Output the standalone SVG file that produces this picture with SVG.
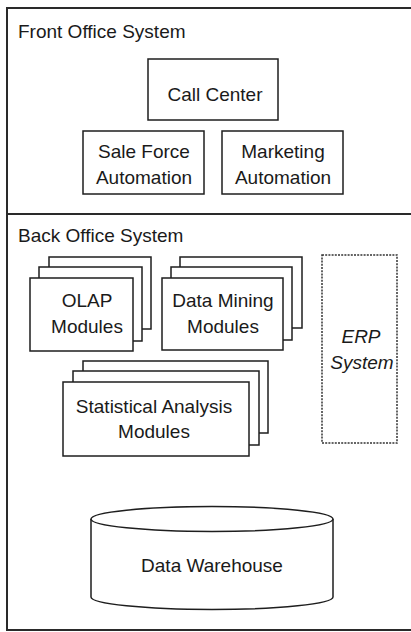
<svg xmlns="http://www.w3.org/2000/svg" width="411" height="632" viewBox="0 0 411 632">
<style>
  .frame{fill:none;stroke:#2a2a2a;stroke-width:2}
  .box{fill:#fff;stroke:#1e1e1e;stroke-width:1.5}
  .dash{fill:none;stroke:#333;stroke-width:1.5;stroke-dasharray:2 1.2}
  text{font-family:"Liberation Sans",Arial,sans-serif;font-size:19px;fill:#1a1a1a}
  .c{text-anchor:middle}
  .i{font-style:italic}
</style>
<rect width="411" height="632" fill="#fff"/>
<g id="frame">
  <path class="frame" d="M411 8 H7 V630 H411 M7 214 H411"/>
</g>
<g id="front-office">
  <text x="18" y="38">Front Office System</text>
</g>
<g id="call-center">
  <rect class="box" x="148" y="59" width="130" height="61"/>
  <text class="c" x="215" y="101">Call Center</text>
</g>
<g id="sale-force">
  <rect class="box" x="83" y="131" width="121" height="63"/>
  <text class="c" x="144" y="158">Sale Force</text>
  <text class="c" x="144" y="184">Automation</text>
</g>
<g id="marketing">
  <rect class="box" x="222" y="131" width="121" height="63"/>
  <text class="c" x="283" y="158">Marketing</text>
  <text class="c" x="283" y="184">Automation</text>
</g>
<g id="back-office">
  <text x="18" y="242">Back Office System</text>
</g>
<g id="olap">
  <rect class="box" x="49" y="257" width="102" height="72"/>
  <rect class="box" x="39" y="267" width="103" height="74"/>
  <rect class="box" x="30" y="278" width="103" height="73"/>
  <text class="c" x="87" y="307">OLAP</text>
  <text class="c" x="87" y="333">Modules</text>
</g>
<g id="data-mining">
  <rect class="box" x="180" y="257" width="122" height="71"/>
  <rect class="box" x="171" y="267" width="121" height="73"/>
  <rect class="box" x="162" y="278" width="121" height="72"/>
  <text class="c" x="223" y="307">Data Mining</text>
  <text class="c" x="223" y="333">Modules</text>
</g>
<g id="erp">
  <rect class="dash" x="322" y="255" width="75" height="188"/>
  <text class="c i" x="361" y="343">ERP</text>
  <text class="c i" x="362" y="369">System</text>
</g>
<g id="statistical">
  <rect class="box" x="83" y="361" width="185" height="72"/>
  <rect class="box" x="73" y="371" width="186" height="74"/>
  <rect class="box" x="63" y="382" width="186" height="74"/>
  <text class="c" x="154" y="413">Statistical Analysis</text>
  <text class="c" x="154" y="438">Modules</text>
</g>
<g id="data-warehouse">
  <path class="box" d="M91 519 V597 A121 12.5 0 0 0 333 597 V519"/>
  <ellipse class="box" cx="212" cy="519" rx="121" ry="12.5"/>
  <text class="c" x="212" y="572">Data Warehouse</text>
</g>
<g id="connectors"></g>
</svg>
